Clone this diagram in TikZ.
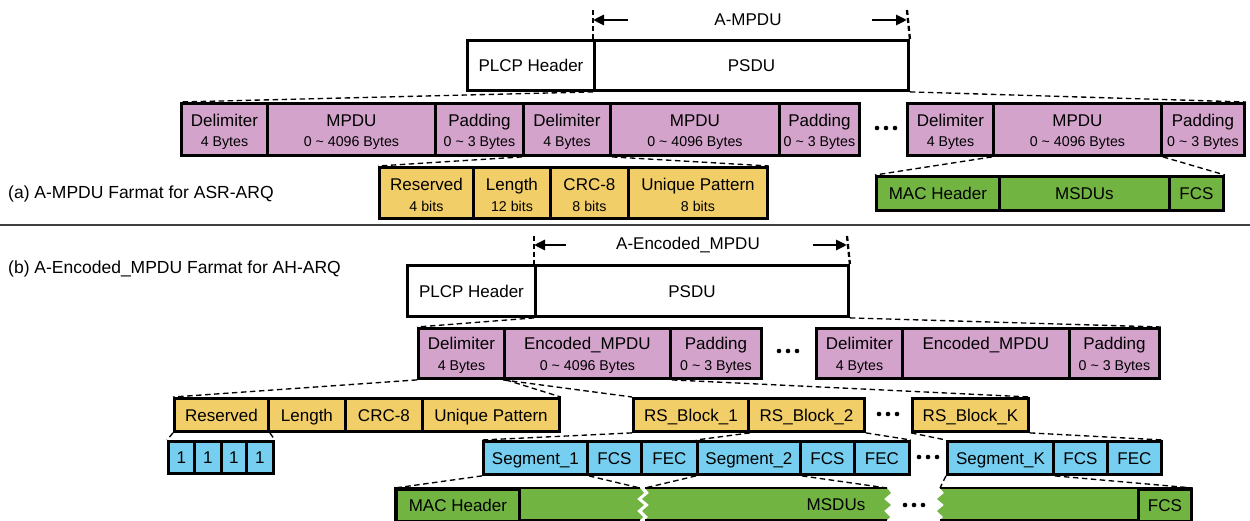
\documentclass[tikz,border=0pt]{standalone}
\usepackage{fontspec}
\setmainfont{Liberation Sans}
\usetikzlibrary{arrows.meta,backgrounds}
\definecolor{pk}{RGB}{212,163,204}
\definecolor{yl}{RGB}{242,206,104}
\definecolor{gn}{RGB}{114,180,66}
\definecolor{bl}{RGB}{118,207,240}
\newcommand\mfnt{\fontsize{17}{20}\selectfont}
\newcommand\capfnt{\fontsize{17.5}{20}\selectfont}
\newcommand\subfnt{\fontsize{14.2}{16}\selectfont}
\tikzset{
  fbox/.style={draw, line width=2.9pt, inner sep=0pt, anchor=north west, font=\mfnt, text height=12.2pt, text depth=0pt},
  pkbox/.style={fbox, fill=pk},
  ylbox/.style={fbox, fill=yl},
  gnbox/.style={fbox, fill=gn},
  blbox/.style={fbox, fill=bl},
  whbox/.style={fbox, fill=white},
  lbl/.style={font=\mfnt, inner sep=0pt, anchor=base},
  sublbl/.style={font=\subfnt, inner sep=0pt, anchor=base},
  conn/.style={line width=1.35pt, dash pattern=on 5.5pt off 3.5pt},
  tick/.style={line width=2.3pt, dash pattern=on 5pt off 3pt},
  arr/.style={line width=2.8pt, -{Triangle[length=11pt,width=10pt]}},
  bd/.style={line width=2.9pt},
}
% name, x1, y1, x2, y2, style, text
\newcommand\bx[7]{\node[#6, minimum width={#4-#2}, minimum height={#5-#3}] (#1) at (#2,#3) {#7};}
% name, x1, y1, x2, y2, style, main, sub, offset
\newcommand\bxx[9]{%
  \node[#6, minimum width={#4-#2}, minimum height={#5-#3}] (#1) at (#2,#3) {};
  \node[lbl] (#1m) at ([yshift=-#9pt]#1.north) {#7};
  \node[sublbl] (#1s) at ([yshift=-#9pt-20.5pt]#1.north) {#8};}
\newcommand\tdots[2]{\fill (#1-9,#2) circle (2.3pt) (#1,#2) circle (2.3pt) (#1+9,#2) circle (2.3pt);}
\newcommand\zz[1]{(#1,488) -- (#1+4,493) -- (#1-3,499) -- (#1+4,505) -- (#1-3,511) -- (#1+3,517) -- (#1,520)}
\newcommand\zzr[1]{(#1,520) -- (#1+3,517) -- (#1-3,511) -- (#1+4,505) -- (#1-3,499) -- (#1+4,493) -- (#1,488)}
\begin{document}
\begin{tikzpicture}[x=1pt,y=-1pt]
\useasboundingbox (0,0) rectangle (1250,521);
% ================= (a) =================
\bx{plcpA}{466}{39}{593}{89}{whbox}{PLCP Header}
\bx{psduA}{593}{39}{907}{89}{whbox}{PSDU}
\node[font=\mfnt, inner sep=0pt] (ampdu) at (748,20) {A-MPDU};
\coordinate (ta1) at (593,10);
\coordinate (ta2) at (907,10);
\draw[tick] (ta1) -- (psduA.north west);
\draw[tick] (ta2) -- (psduA.north east);
\coordinate (aal) at (628,20);
\coordinate (aar) at (872,20);
\draw[arr] (aal) -- (ta1 |- aal);
\draw[arr] (aar) -- (ta2 |- aar);

\bxx{dA1}{180}{102}{266}{154}{pkbox}{Delimiter}{4 Bytes}{24.5}
\bxx{mA1}{266}{102}{434}{154}{pkbox}{MPDU}{0 \textasciitilde{} 4096 Bytes}{24.5}
\bxx{pA1}{434}{102}{522}{154}{pkbox}{Padding}{0 \textasciitilde{} 3 Bytes}{24.5}
\bxx{dA2}{522}{102}{609}{154}{pkbox}{Delimiter}{4 Bytes}{24.5}
\bxx{mA2}{609}{102}{778}{154}{pkbox}{MPDU}{0 \textasciitilde{} 4096 Bytes}{24.5}
\bxx{pA2}{778}{102}{858}{154}{pkbox}{Padding}{0 \textasciitilde{} 3 Bytes}{24.5}
\tdots{886}{128}
\bxx{dA3}{906}{102}{992}{154}{pkbox}{Delimiter}{4 Bytes}{24.5}
\bxx{mA3}{992}{102}{1160}{154}{pkbox}{MPDU}{0 \textasciitilde{} 4096 Bytes}{24.5}
\bxx{pA3}{1160}{102}{1243}{154}{pkbox}{Padding}{0 \textasciitilde{} 3 Bytes}{24.5}

\bxx{rA}{378}{166}{472}{217}{ylbox}{Reserved}{4 bits}{25}
\bxx{lA}{472}{166}{549}{217}{ylbox}{Length}{12 bits}{25}
\bxx{cA}{549}{166}{627}{217}{ylbox}{CRC-8}{8 bits}{25}
\bxx{uA}{627}{166}{766}{217}{ylbox}{Unique Pattern}{8 bits}{25}

\bx{macA}{875}{175}{998}{209}{gnbox}{MAC Header}
\bx{msduA}{998}{175}{1168}{209}{gnbox}{MSDUs}
\bx{fcsA}{1168}{175}{1222}{209}{gnbox}{FCS}

\node[font=\capfnt, inner sep=0pt, anchor=west] (capA) at (8,194) {(a) A-MPDU Farmat for ASR-ARQ};
\coordinate (sepL) at (0,225);
\coordinate (sepR) at (1250,225);
\draw[line width=1.3pt, black!75] (sepL) -- (sepR);
\node[font=\capfnt, inner sep=0pt, anchor=west] (capB) at (8,269) {(b) A-Encoded\_MPDU Farmat for AH-ARQ};

% ================= (b) =================
\bx{plcpB}{406}{264}{534}{315}{whbox}{PLCP Header}
\bx{psduB}{534}{264}{847}{315}{whbox}{PSDU}
\node[font=\mfnt, inner sep=0pt] (aenc) at (688,245) {A-Encoded\_MPDU};
\coordinate (tb1) at (534,236);
\coordinate (tb2) at (847,236);
\draw[tick] (tb1) -- (psduB.north west);
\draw[tick] (tb2) -- (psduB.north east);
\coordinate (abl) at (566,245);
\coordinate (abr) at (813,245);
\draw[arr] (abl) -- (tb1 |- abl);
\draw[arr] (abr) -- (tb2 |- abr);

\bxx{dB1}{417}{327}{503}{377}{pkbox}{Delimiter}{4 Bytes}{22.5}
\bxx{eB1}{503}{327}{669}{377}{pkbox}{Encoded\_MPDU}{0 \textasciitilde{} 4096 Bytes}{22.5}
\bxx{pB1}{669}{327}{760}{377}{pkbox}{Padding}{0 \textasciitilde{} 3 Bytes}{22.5}
\tdots{788}{351}
\bxx{dB2}{815}{327}{901}{377}{pkbox}{Delimiter}{4 Bytes}{22.5}
\bx{eB2}{901}{327}{1068}{377}{pkbox}{}
\node[lbl] (eB2m) at ([yshift=-22.5pt]eB2.north) {Encoded\_MPDU};
\bxx{pB2}{1068}{327}{1158}{377}{pkbox}{Padding}{0 \textasciitilde{} 3 Bytes}{22.5}

\bx{rB}{173}{397}{267}{430}{ylbox}{Reserved}
\bx{lB}{267}{397}{344}{430}{ylbox}{Length}
\bx{cB}{344}{397}{421}{430}{ylbox}{CRC-8}
\bx{uB}{421}{397}{558}{430}{ylbox}{Unique Pattern}

\bx{o1}{167}{440}{193}{472}{blbox}{1}
\bx{o2}{193}{440}{220}{472}{blbox}{1}
\bx{o3}{220}{440}{245}{472}{blbox}{1}
\bx{o4}{245}{440}{272}{472}{blbox}{1}

\bx{rs1}{632}{397}{747}{430}{ylbox}{RS\_Block\_1}
\bx{rs2}{747}{397}{863}{430}{ylbox}{RS\_Block\_2}
\tdots{888}{414}
\bx{rsK}{911}{397}{1027}{430}{ylbox}{RS\_Block\_K}

\bx{s1}{482}{440}{586}{473}{blbox}{Segment\_1}
\bx{fcs1}{586}{440}{640}{473}{blbox}{FCS}
\bx{fec1}{640}{440}{696}{473}{blbox}{FEC}
\bx{s2}{696}{440}{799}{473}{blbox}{Segment\_2}
\bx{fcs2}{799}{440}{853}{473}{blbox}{FCS}
\bx{fec2}{853}{440}{908}{473}{blbox}{FEC}
\tdots{928}{457}
\bx{sK}{946}{440}{1052}{473}{blbox}{Segment\_K}
\bx{fcsK}{1052}{440}{1106}{473}{blbox}{FCS}
\bx{fecK}{1106}{440}{1160}{473}{blbox}{FEC}

% green bottom row with breaks
\fill[gn] (395,488) -- \zz{640} -- (395,520) -- cycle;
\draw[bd] (640,488) -- (395,488) -- (395,520) -- (640,520);
\fill[gn] \zz{887} -- \zzr{645} -- cycle;
\draw[bd] (645,488) -- (887,488);
\draw[bd] (645,520) -- (887,520);
\fill[gn] \zz{940} -- (1190,520) -- (1190,488) -- cycle;
\draw[bd] (940,488) -- (1190,488) -- (1190,520) -- (940,520);
\bx{macB}{395}{488}{518}{520}{gnbox}{MAC Header}
\bx{fcsB}{1137}{488}{1190}{520}{gnbox}{FCS}
\node[font=\mfnt, inner sep=0pt, text height=12.2pt, text depth=0pt] (msduB) at (836,504) {MSDUs};
\tdots{914}{505}
\coordinate (zA) at (640,488);
\coordinate (zB) at (645,488);
\coordinate (zB2) at (887,488);
\coordinate (zC) at (940,488);

% ================= connectors =================
\begin{pgfonlayer}{background}
\draw[conn] (psduA.south west) -- (dA1.north west);
\draw[conn] (psduA.south east) -- (pA3.north east);
\draw[conn] (dA2.south west) -- (rA.north west);
\draw[conn] (dA2.south east) -- (uA.north east);
\draw[conn] (mA3.south west) -- (macA.north west);
\draw[conn] (mA3.south east) -- (fcsA.north east);

\draw[conn] (psduB.south west) -- (dB1.north west);
\draw[conn] (psduB.south east) -- (pB2.north east);
\draw[conn] (dB1.south west) -- (rB.north west);
\draw[conn] (dB1.south east) -- (uB.north east);
\draw[conn] (eB1.south west) -- (rs1.north west);
\draw[conn] (eB1.south east) -- (rsK.north east);
\draw[conn] (rB.south west) -- (o1.north west);
\draw[conn] (rB.south east) -- (o4.north east);
\draw[conn] (rs1.south west) -- (s1.north west);
\draw[conn] (rs1.south east) -- (s2.north west);
\draw[conn] (rs2.south east) -- (fec2.north east);
\draw[conn] (rsK.south west) -- (sK.north west);
\draw[conn] (rsK.south east) -- (fecK.north east);
\draw[conn] (s1.south west) -- (macB.north west);
\draw[conn] (s1.south east) -- (zA);
\draw[conn] (s2.south west) -- (zB);
\draw[conn] (s2.south east) -- (zB2);
\draw[conn] (sK.south west) -- (zC);
\draw[conn] (sK.south east) -- (fcsB.north east);
\end{pgfonlayer}
\end{tikzpicture}
\end{document}
